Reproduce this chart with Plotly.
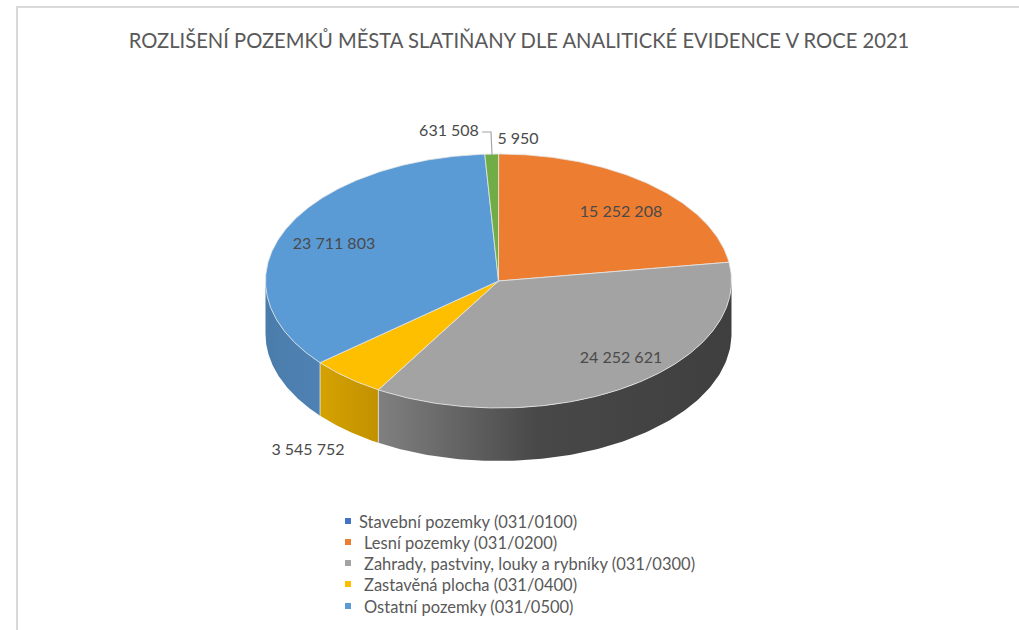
import numpy as np
import plotly.graph_objects as go

title = "ROZLIŠENÍ POZEMKŮ MĚSTA SLATIŇANY DLE ANALITICKÉ EVIDENCE V ROCE 2021"
categories = ["Stavební pozemky (031/0100)", "Lesní pozemky (031/0200)",
              "Zahrady, pastviny, louky a rybníky (031/0300)",
              "Zastavěná plocha (031/0400)", "Ostatní pozemky (031/0500)", ""]
values = [5950, 15252208, 24252621, 3545752, 23711803, 631508]
labels = ["5 950", "15 252 208", "24 252 621", "3 545 752", "23 711 803", "631 508"]
colors = ["#4472c4", "#ed7d31", "#a3a3a3", "#fdbf00", "#5b9bd5", "#70ad47"]
label_pos = [(518, 140), (621, 213), (621, 359), (308, 451), (334, 245), (449, 132)]

# side-wall gradient stops (position, colour; left -> right) for slices with a visible wall
wall_shade = {
    2: [[0, "#808080"], [0.45, "#484848"], [1, "#3f3f3f"]],
    3: [[0, "#d4a200"], [1, "#c29100"]],
    4: [[0, "#4a7cab"], [1, "#4f82b4"]],
}

CX, CY, RX, RY, DEPTH = 498.5, 281, 233, 127, 53
LINE = "#e6e6e6"
TEXT = "#595959"
FONT = "Lato"


def rim(t):
    return CX + RX * np.sin(t), CY - RY * np.cos(t)


fracs = np.array(values, dtype=float) / sum(values)
edges = np.concatenate([[0], np.cumsum(fracs)]) * 2 * np.pi

fig = go.Figure()

# side walls (only the part facing the viewer)
for i, stops in wall_shade.items():
    a = max(edges[i], np.pi / 2)
    b = min(edges[i + 1], 3 * np.pi / 2)
    t = np.linspace(a, b, 120)
    x, y = rim(t)
    px = np.concatenate([x, x[::-1], x[:1]])
    py = np.concatenate([y, y[::-1] + DEPTH, y[:1]])
    lo, hi = float(x.min()), float(x.max())
    fig.add_trace(go.Scatter(
        x=px, y=py, mode="lines", fill="toself", showlegend=False, hoverinfo="skip",
        line=dict(width=0),
        fillgradient=dict(type="horizontal", start=lo, stop=hi, colorscale=stops),
    ))

# wall separators between neighbouring visible slices
for e in edges[1:-1]:
    if np.pi / 2 < e < 3 * np.pi / 2:
        x, y = rim(np.array([e]))
        fig.add_trace(go.Scatter(x=[x[0], x[0]], y=[y[0], y[0] + DEPTH], mode="lines",
                                 line=dict(width=0.8, color=LINE), showlegend=False, hoverinfo="skip"))

# top face
for i, v in enumerate(values):
    t = np.linspace(edges[i], edges[i + 1], max(3, int(fracs[i] * 720)))
    x, y = rim(t)
    px = np.concatenate([[CX], x, [CX]])
    py = np.concatenate([[CY], y, [CY]])
    fig.add_trace(go.Scatter(
        x=px, y=py, mode="lines", fill="toself", fillcolor=colors[i], name=categories[i] or "631 508",
        line=dict(width=0.8 if v > 10000 else 0, color=LINE), showlegend=False, hoverinfo="skip",
    ))

# leader line for the small slices
fig.add_trace(go.Scatter(x=[482, 491, 492], y=[132, 132, 155], mode="lines",
                         line=dict(color="#a6a6a6", width=1.2), showlegend=False, hoverinfo="skip"))

# data labels
fig.add_trace(go.Scatter(
    x=[p[0] for p in label_pos], y=[p[1] for p in label_pos], mode="text", text=labels,
    textposition="middle center", textfont=dict(family=FONT, size=16, color="#4a4a4a"),
    showlegend=False, hoverinfo="skip",
))

# legend (square + text rows)
legend_x = [348, 348, 348, 348, 348]
legend_tx = [359, 364, 364, 364, 364]
legend_y = [524, 545, 566, 587, 609]
marker_y = [521, 542, 563, 584, 606]
for k in range(5):
    fig.add_trace(go.Scatter(x=[legend_x[k]], y=[marker_y[k]], mode="markers",
                             marker=dict(symbol="square", size=6, color=colors[k]),
                             showlegend=False, hoverinfo="skip"))
    fig.add_trace(go.Scatter(x=[legend_tx[k]], y=[legend_y[k]], mode="text", text=[categories[k]],
                             textposition="middle right",
                             textfont=dict(family=FONT, size=16.5, color=TEXT),
                             showlegend=False, hoverinfo="skip"))

fig.update_layout(
    width=1019, height=630, margin=dict(l=0, r=0, t=0, b=0),
    paper_bgcolor="white", plot_bgcolor="white", showlegend=False,
    title=dict(text=title, x=519 / 1019, y=1 - 41 / 630, xanchor="center", yanchor="middle",
               font=dict(family=FONT, size=20.2, color=TEXT)),
    xaxis=dict(range=[0, 1019], visible=False, fixedrange=True),
    yaxis=dict(range=[630, 0], visible=False, fixedrange=True),
    shapes=[dict(type="path", path="M 17 630 L 17 7 L 1019 7", xref="x", yref="y",
                 line=dict(color="#d9d9d9", width=2))],
)
fig.write_html("out.html", config=dict(displayModeBar=False),
               post_script="document.body.style.margin='0';document.documentElement.style.overflow='hidden';")
